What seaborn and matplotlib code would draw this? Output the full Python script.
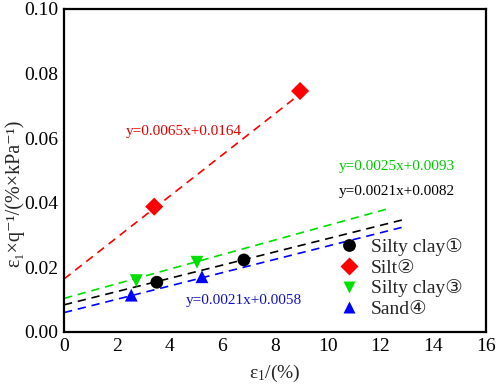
import numpy as np
import pandas as pd
import matplotlib
matplotlib.use("Agg")
import matplotlib.pyplot as plt
import seaborn as sns

# ---- data ----
soils = ["Silty clay①", "Silt②", "Silty clay③", "Sand④"]
colors = ["#000000", "#ff0000", "#00e000", "#0000ff"]
text_colors = ["#000000", "#e00000", "#00c800", "#1010c0"]
markers = ["o", "D", "v", "^"]

clay1_x = [3.52, 6.82]
clay1_y = [0.0154, 0.0223]
silt2_x = [3.42, 8.95]
silt2_y = [0.0388, 0.0746]
clay3_x = [2.74, 5.04]
clay3_y = [0.0159, 0.0216]
sand4_x = [2.55, 5.23]
sand4_y = [0.0114, 0.0171]

# fitted lines as drawn: slope, intercept, x extent
fit_slope = [0.00205, 0.0064, 0.00226, 0.00206]
fit_intercept = [0.0084, 0.0164, 0.0104, 0.0060]
fit_xmax = [12.85, 8.8, 12.2, 12.8]
fit_labels = ["y=0.0021x+0.0082", "y=0.0065x+0.0164", "y=0.0025x+0.0093", "y=0.0021x+0.0058"]
label_x = [10.4, 2.36, 10.4, 4.61]
label_y = [0.0434, 0.0622, 0.0512, 0.0099]

x_ticks = [0, 2, 4, 6, 8, 10, 12, 14, 16]
y_ticks = [0.00, 0.02, 0.04, 0.06, 0.08, 0.10]

# ---- frames ----
pts = pd.DataFrame({
    "x": clay1_x + silt2_x + clay3_x + sand4_x,
    "y": clay1_y + silt2_y + clay3_y + sand4_y,
    "soil": [soils[0]] * len(clay1_x) + [soils[1]] * len(silt2_x)
            + [soils[2]] * len(clay3_x) + [soils[3]] * len(sand4_x),
})
rows = []
for s, m, b, xm in zip(soils, fit_slope, fit_intercept, fit_xmax):
    for xv in (0.0, xm):
        rows.append({"x": xv, "y": m * xv + b, "soil": s})
lines = pd.DataFrame(rows)

sns.set_style("white")
plt.rcParams["font.family"] = ["Liberation Serif", "DejaVu Sans"]
plt.rcParams["mathtext.fontset"] = "custom"
plt.rcParams["mathtext.rm"] = "Liberation Serif"
plt.rcParams["mathtext.it"] = "Liberation Serif:italic"

fig = plt.figure(figsize=(4.98, 3.85), dpi=100)
ax = fig.add_axes([0.1285, 0.1377, 0.8475, 0.839])

pal = dict(zip(soils, colors))
for s in soils:
    sub = lines[lines.soil == s]
    sns.lineplot(data=sub, x="x", y="y", color=pal[s], lw=1.2,
                 dashes=False, ax=ax, legend=False)
for l in ax.lines:
    l.set_linestyle((0, (5, 3.5)))

sns.scatterplot(data=pts, x="x", y="y", hue="soil", style="soil",
                hue_order=soils, style_order=soils, palette=pal,
                markers=dict(zip(soils, markers)), s=85, edgecolor="none",
                ax=ax, zorder=5)

for t, tx, ty, c in zip(fit_labels, label_x, label_y, text_colors):
    ax.text(tx, ty, t, color=c, fontsize=11, va="center", ha="left")

ax.set_xlim(0, 16)
ax.set_ylim(0, 0.10)
ax.set_xticks(x_ticks)
ax.set_yticks(y_ticks)
ax.set_xticklabels([str(v) for v in x_ticks])
ax.set_yticklabels([f"{v:.2f}" for v in y_ticks])
ax.tick_params(direction="in", length=4, width=1.5, labelsize=14, pad=4,
               colors="black")
for sp in ax.spines.values():
    sp.set_linewidth(1.6)
    sp.set_color("black")

ax.set_xlabel(r"$\mathregular{ε_1/(\%)}$", fontsize=14)
ax.set_ylabel("ε₁×q⁻¹/(%×kPa⁻¹)", fontsize=14.5)
ax.xaxis.set_label_coords(0.5, -0.097)
ax.yaxis.set_label_coords(-0.095, 0.43)

handles, labs = ax.get_legend_handles_labels()
leg = ax.legend(handles, labs, loc="upper left", bbox_to_anchor=(0.63, 0.315),
                frameon=False, fontsize=14, labelspacing=0.15,
                handletextpad=0.5, handlelength=1.2, borderaxespad=0,
                markerscale=1.0)

fig.savefig("out.png", dpi=100)
